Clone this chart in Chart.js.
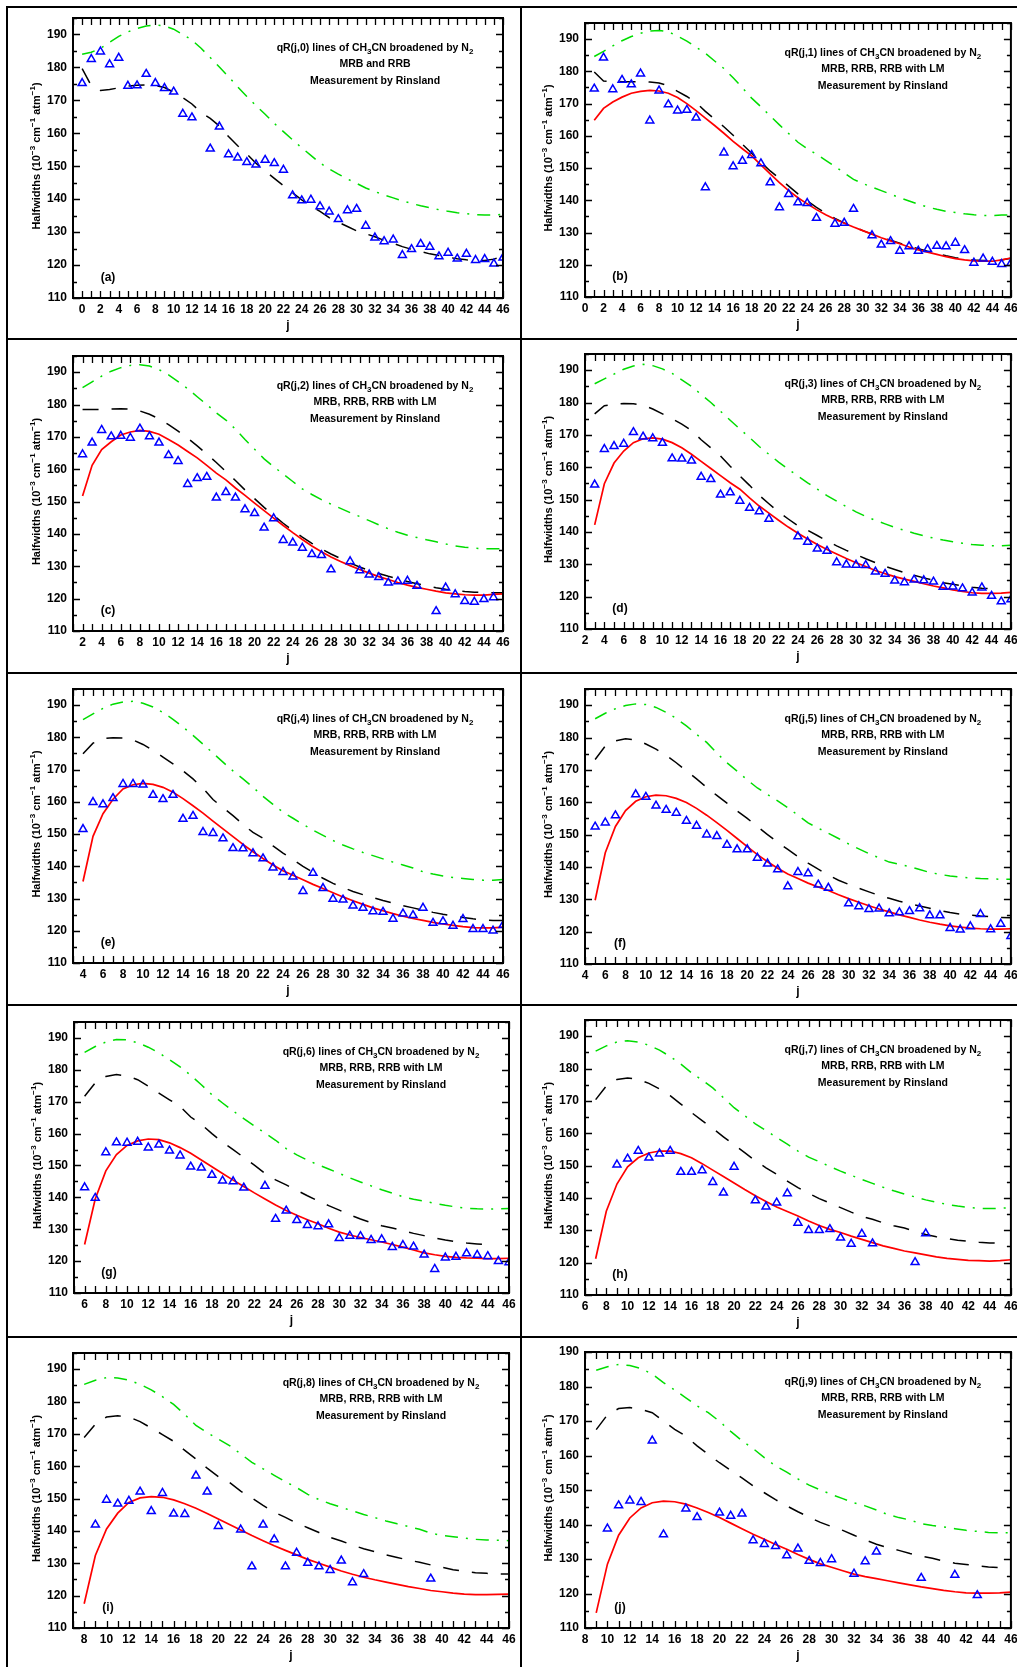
<!DOCTYPE html>
<html><head><meta charset="utf-8">
<script src="https://cdn.jsdelivr.net/npm/chart.js@4.4.1/dist/chart.umd.min.js"></script>
<style>
html,body{margin:0;padding:0;background:#fff;}
body{width:1017px;height:1667px;position:relative;overflow:hidden;}
canvas{position:absolute;}
.ln{position:absolute;background:#000;z-index:5;}
</style></head><body>
<div class="ln" style="left:6px;top:6px;width:2px;height:1661px"></div>
<div class="ln" style="left:6px;top:6px;width:1011px;height:2px"></div>
<div class="ln" style="left:520px;top:6px;width:2px;height:1661px"></div>
<div class="ln" style="left:6px;top:338px;width:1011px;height:2px"></div>
<div class="ln" style="left:6px;top:672px;width:1011px;height:2px"></div>
<div class="ln" style="left:6px;top:1004px;width:1011px;height:2px"></div>
<div class="ln" style="left:6px;top:1336px;width:1011px;height:2px"></div>
<script>
// ---------- tick labels ----------
const yTicks = [110,120,130,140,150,160,170,180,190];
const xTicks0 = [0,2,4,6,8,10,12,14,16,18,20,22,24,26,28,30,32,34,36,38,40,42,44,46];
const xTicks2 = [2,4,6,8,10,12,14,16,18,20,22,24,26,28,30,32,34,36,38,40,42,44,46];
const xTicks4 = [4,6,8,10,12,14,16,18,20,22,24,26,28,30,32,34,36,38,40,42,44,46];
const xTicks6 = [6,8,10,12,14,16,18,20,22,24,26,28,30,32,34,36,38,40,42,44,46];
const xTicks8 = [8,10,12,14,16,18,20,22,24,26,28,30,32,34,36,38,40,42,44,46];

// ---------- (a) qR(j,0) ----------
const measJ_a = [0,1,2,3,4,5,6,7,8,9,10,11,12,14,15,16,17,18,19,20,21,22,23,24,25,26,27,28,29,30,31,32,33,34,35,36,37,38,39,40,41,42,43,44,45,46];
const measW_a = [175.2,182.5,184.8,180.9,182.9,174.4,174.5,178.0,175.2,173.7,172.6,165.9,164.8,155.3,162.0,153.6,152.6,151.2,150.5,151.9,150.9,148.9,141.1,139.6,139.8,137.8,136.2,133.9,136.6,137.0,131.9,128.3,127.2,127.7,123.0,124.8,126.4,125.5,122.6,123.7,121.9,123.4,121.5,121.8,120.4,122.2];
const mrbStart_a = 0;
const mrb_a = [179.6,174.5,173.0,173.3,173.8,174.3,174.6,174.7,174.5,173.9,172.5,170.8,168.9,166.3,164.5,162.2,159.0,156.2,153.7,150.9,148.6,146.3,144.1,141.9,139.8,137.9,136.3,134.4,133.0,131.7,130.4,129.5,128.6,127.5,126.6,125.6,124.8,124.1,123.4,122.9,122.4,121.9,121.6,121.4,121.4,121.8,122.7];
const rrbStart_a = 0;
const rrb_a = [184.0,184.6,185.8,187.6,189.4,190.8,191.8,192.6,192.9,192.6,191.6,190.0,188.3,185.8,183.0,180.1,177.2,174.1,171.2,168.4,165.8,163.0,160.5,158.0,155.6,153.3,151.0,149.2,147.6,146.1,144.8,143.4,142.3,141.3,140.4,139.5,138.7,138.0,137.4,136.8,136.3,135.9,135.6,135.3,135.2,135.2,135.4];

// ---------- (b) qR(j,1) ----------
const measJ_b = [1,2,3,4,5,6,7,8,9,10,11,12,13,15,16,17,18,19,20,21,22,23,24,25,27,28,29,31,32,33,34,35,36,37,38,39,40,41,42,43,44,45,46];
const measW_b = [174.6,184.2,174.4,177.3,175.9,179.3,164.7,174.0,169.7,167.8,168.0,165.6,144.0,154.8,150.5,152.2,154.0,151.4,145.5,137.8,141.9,139.3,139.1,134.5,132.7,133.0,137.3,129.1,126.2,127.3,124.3,125.7,124.3,124.8,125.8,125.7,126.8,124.5,120.6,121.9,120.9,120.2,120.5];
const mrbStart_b = 1;
const mrb_b = [179.8,177.0,176.9,176.8,176.8,176.8,176.7,176.4,175.5,173.8,172.2,170.3,167.6,165.2,162.8,160.2,157.4,154.6,151.8,149.1,146.8,144.4,142.0,139.8,137.8,136.0,134.4,133.0,131.8,130.6,129.5,128.5,127.6,126.7,125.8,125.0,124.2,123.5,122.8,122.2,121.8,121.5,121.3,121.3,121.5,122.0];
const lmStart_b = 1;
const lm_b = [164.8,168.5,170.5,172.0,173.2,173.8,174.1,173.9,173.2,171.9,170.0,167.8,165.5,163.2,160.8,158.3,156.0,153.8,151.0,148.2,145.5,143.0,140.8,138.9,137.1,135.5,134.1,132.9,131.7,130.6,129.5,128.4,127.4,126.5,125.5,124.6,123.9,123.2,122.5,121.9,121.5,121.2,121.1,121.1,121.5,122.1];
const rrbStart_b = 1;
const rrb_b = [184.6,186.2,187.9,189.5,190.8,191.8,192.5,192.7,192.3,190.9,189.4,187.5,185.6,183.2,180.9,178.0,174.9,171.7,169.0,166.2,163.4,160.7,158.0,156.0,154.3,152.4,150.5,148.5,146.5,145.2,144.1,143.0,141.9,140.8,139.8,138.8,137.9,137.2,136.6,136.2,135.8,135.5,135.3,135.3,135.4,135.5];

// ---------- (c) qR(j,2) ----------
const measJ_c = [2,3,4,5,6,7,8,9,10,11,12,13,14,15,16,17,18,19,20,21,22,23,24,25,26,27,28,30,31,32,33,34,35,36,37,39,40,41,42,43,44,45];
const measW_c = [164.6,168.2,172.1,170.1,170.3,169.7,172.5,170.1,168.2,164.3,162.5,155.4,157.2,157.6,151.2,152.9,151.2,147.6,146.4,141.9,144.8,138.1,137.3,135.7,133.7,133.4,129.0,131.5,128.7,127.4,126.6,124.9,125.3,125.5,123.9,116.1,123.4,121.3,119.2,119.0,119.8,120.4];
const mrbStart_c = 2;
const mrb_c = [178.5,178.5,178.5,178.6,178.7,178.6,178.0,177.0,175.6,173.8,171.8,169.6,167.2,164.7,162.1,159.3,156.5,153.6,150.9,148.2,145.7,143.3,141.1,139.0,137.1,135.4,133.8,132.4,131.0,129.8,128.7,127.8,126.9,126.1,125.3,124.6,124.0,123.4,122.9,122.5,122.2,122.0,121.9,121.8,121.8];
const lmStart_c = 2;
const lm_c = [151.7,161.2,166.1,168.5,170.6,171.5,172.0,171.7,170.8,169.2,167.5,165.5,163.5,161.2,158.8,156.7,154.2,151.9,149.5,147.2,144.9,142.6,140.4,138.3,136.3,134.5,132.9,131.5,130.2,129.0,127.9,126.8,125.9,125.0,124.2,123.5,122.9,122.3,121.8,121.5,121.2,121.1,121.1,121.3,121.5];
const rrbStart_c = 2;
const rrb_c = [185.2,187.0,188.8,190.3,191.4,192.1,192.3,191.9,190.8,189.2,187.1,184.9,182.4,180.0,177.4,175.2,172.4,169.2,166.2,163.2,160.8,158.5,156.2,153.9,152.2,150.6,149.2,147.9,146.6,145.4,144.1,142.8,141.6,140.5,139.6,138.9,138.2,137.6,136.9,136.3,135.9,135.6,135.4,135.4,135.4];

// ---------- (d) qR(j,3) ----------
const measJ_d = [3,4,5,6,7,8,9,10,11,12,13,14,15,16,17,18,19,20,21,24,25,26,27,28,29,30,31,32,33,34,35,36,37,38,39,40,41,42,43,44,45,46];
const measW_d = [154.6,165.6,166.5,167.2,170.8,169.4,168.9,167.5,162.7,162.6,162.0,157.0,156.3,151.5,152.2,149.6,147.4,146.3,144.0,138.6,136.9,134.8,134.1,130.6,129.9,129.8,129.7,127.7,127.0,124.9,124.4,125.2,125.0,124.6,123.0,123.1,122.5,121.2,122.8,120.2,118.5,119.1];
const mrbStart_d = 3;
const mrb_d = [176.5,179.0,179.5,179.7,179.6,179.2,178.0,176.5,175.0,173.3,171.4,168.5,166.0,163.5,160.3,157.3,154.4,151.3,148.7,146.2,144.0,141.9,140.5,138.9,137.2,135.7,134.3,133.0,131.7,130.5,129.4,128.4,127.4,126.6,125.8,125.1,124.3,123.8,123.3,122.9,122.6,122.5];
const lmStart_d = 3;
const lm_d = [142.2,154.9,161.3,165.0,167.6,168.8,169.1,168.7,167.6,166.0,164.0,161.8,159.6,157.4,155.2,153.2,150.5,148.0,145.8,143.6,141.5,139.6,137.8,136.1,134.6,133.2,131.8,130.5,129.3,128.1,127.1,126.2,125.4,124.7,124.0,123.3,122.7,122.1,121.6,121.2,121.0,121.0,121.1,121.3];
const rrbStart_d = 3;
const rrb_d = [185.8,187.3,188.8,190.3,191.3,191.8,191.4,190.4,189.0,187.0,185.0,182.5,180.0,177.3,174.5,171.8,169.2,166.4,164.0,161.6,159.4,157.3,155.2,153.2,151.2,149.5,147.8,146.2,144.8,143.6,142.5,141.4,140.5,139.6,138.8,138.1,137.5,137.0,136.5,136.1,135.9,135.7,135.7,135.9];

// ---------- (e) qR(j,4) ----------
const measJ_e = [4,5,6,7,8,9,10,11,12,13,14,15,16,17,18,19,20,21,22,23,24,25,26,27,28,29,30,31,32,33,34,35,36,37,38,39,40,41,42,43,44,45,46];
const measW_e = [151.5,159.9,159.2,161.1,165.5,165.5,165.3,162.1,160.8,162.1,154.7,155.6,150.6,150.3,148.6,145.6,145.5,144.0,142.4,139.6,138.2,136.8,132.3,137.9,133.2,129.9,129.6,127.8,127.1,126.0,125.8,123.7,125.3,124.8,127.1,122.4,122.9,121.5,123.6,120.5,120.5,120.0,121.7];
const mrbStart_e = 4;
const mrb_e = [174.9,178.2,179.6,179.9,179.8,179.2,177.8,176.0,173.9,171.8,169.6,167.1,164.2,160.7,158.2,155.7,153.0,150.5,148.7,146.3,144.1,142.1,140.0,138.1,136.3,134.7,133.4,132.2,131.2,130.3,129.4,128.6,127.8,127.1,126.4,125.7,125.1,124.6,124.1,123.7,123.4,123.2,123.2];
const lmStart_e = 4;
const lm_e = [135.3,149.3,156.3,160.8,164.0,165.3,165.7,165.4,164.5,163.0,161.0,158.8,156.5,154.0,151.6,149.2,146.8,144.5,142.4,140.4,138.6,137.2,135.8,134.4,133.1,131.8,130.5,129.3,128.2,127.1,126.2,125.3,124.5,123.8,123.2,122.6,122.1,121.7,121.3,121.0,120.9,120.9,121.1];
const rrbStart_e = 4;
const rrb_e = [185.5,187.3,189.0,190.3,191.0,191.2,190.6,189.4,187.7,185.6,183.2,180.6,177.9,175.1,172.3,169.6,167.1,164.5,161.7,159.2,156.8,154.9,153.0,151.2,149.6,148.0,146.6,145.4,144.3,143.3,142.3,141.3,140.4,139.5,138.3,137.6,137.0,136.5,136.2,135.9,135.7,135.7,135.9];

// ---------- (f) qR(j,5) ----------
const measJ_f = [5,6,7,9,10,11,12,13,14,15,16,17,18,19,20,21,22,23,24,25,26,27,28,30,31,32,33,34,35,36,37,38,39,40,41,42,43,44,45,46];
const measW_f = [152.4,153.7,155.9,162.4,161.6,158.9,157.6,156.7,154.2,152.7,150.0,149.5,146.8,145.4,145.4,142.8,141.0,139.2,134.0,138.4,138.0,134.5,133.5,128.7,127.8,126.9,127.1,125.6,125.9,126.3,127.2,125.0,125.0,121.1,120.6,121.6,125.4,120.7,122.4,118.6];
const mrbStart_f = 5;
const mrb_f = [173.2,177.4,179.0,179.6,179.3,178.0,176.4,174.5,172.2,169.7,167.2,164.6,162.1,159.7,157.3,155.0,152.5,150.0,147.6,145.4,143.2,141.2,139.3,137.5,135.9,134.6,133.4,132.3,131.2,130.3,129.4,128.6,127.9,127.2,126.5,125.9,125.4,125.1,124.8,124.6,124.4,124.3];
const lmStart_f = 5;
const lm_f = [129.7,144.4,152.5,157.4,160.3,161.7,162.2,162.0,161.2,159.9,158.1,156.0,153.7,151.3,148.8,146.3,143.8,141.6,139.6,137.8,136.4,135.0,133.8,132.7,131.4,130.2,129.1,128.0,127.0,126.1,125.2,124.4,123.6,122.9,122.3,121.8,121.4,121.1,120.9,120.8,120.8,120.9];
const rrbStart_f = 5;
const rrb_f = [185.8,187.5,188.9,189.9,190.4,190.2,189.3,187.8,185.9,183.6,181.0,178.5,175.2,172.2,169.6,166.9,164.4,162.4,160.4,158.3,156.0,153.6,152.0,150.4,148.8,147.1,145.6,144.1,142.8,141.5,140.8,140.1,139.2,138.3,137.7,137.2,136.9,136.6,136.4,136.3,136.2,136.2];

// ---------- (g) qR(j,6) ----------
const measJ_g = [6,7,8,9,10,11,12,13,14,15,16,17,18,19,20,21,23,24,25,26,27,28,29,30,31,32,33,34,35,36,37,38,39,40,41,42,43,44,45,46];
const measW_g = [143.1,139.8,154.1,157.2,157.1,157.4,155.6,156.5,154.6,153.1,149.6,149.3,147.0,145.2,145.0,143.0,143.6,133.2,135.8,132.8,131.3,130.9,131.5,127.2,127.9,127.8,126.6,126.8,124.4,125.0,124.5,122.0,117.5,121.1,121.3,122.4,121.9,121.5,120.0,119.6];
const mrbStart_g = 6;
const mrb_g = [171.7,175.9,177.9,178.5,178.1,176.9,174.9,172.7,170.6,168.5,165.2,162.9,160.0,157.3,155.0,152.5,150.1,147.5,145.5,143.9,142.2,140.5,138.9,137.4,136.0,134.5,133.2,132.1,131.1,130.4,129.6,128.7,128.0,127.3,126.6,126.1,125.7,125.4,125.1];
const lmStart_g = 6;
const lm_g = [125.2,139.5,148.3,153.4,156.3,157.7,158.3,158.1,157.1,155.6,153.8,151.7,149.6,147.5,145.4,143.4,141.4,139.5,137.6,135.9,134.4,133.0,131.7,130.3,129.1,128.2,127.4,126.7,126.0,125.2,124.4,123.5,122.6,122.0,121.5,121.2,121.0,120.9,120.8,120.8,120.9];
const rrbStart_g = 6;
const rrb_g = [185.5,187.3,188.7,189.5,189.4,188.5,187.1,185.3,183.2,180.9,178.3,175.3,172.2,169.6,167.1,164.7,162.4,160.2,157.9,155.3,153.3,151.7,150.2,148.9,147.5,146.1,144.8,143.6,142.4,141.3,140.2,139.4,138.8,138.1,137.5,137.0,136.6,136.4,136.3,136.4,136.5];

// ---------- (h) qR(j,7) ----------
const measJ_h = [9,10,11,12,13,14,15,16,17,18,19,20,22,23,24,25,26,27,28,29,30,31,32,33,37,38];
const measW_h = [150.3,152.1,154.5,152.4,153.7,154.5,148.0,148.0,148.5,144.9,141.6,149.6,139.2,137.3,138.5,141.4,132.3,130.0,130.0,130.3,127.7,125.8,128.9,125.9,120.1,129.0];
const mrbStart_h = 7;
const mrb_h = [170.4,174.6,176.6,177.1,176.7,175.4,173.7,171.6,169.0,166.4,163.9,161.5,158.9,156.4,154.0,151.5,149.3,147.3,145.2,143.2,141.4,139.8,138.4,137.0,135.6,134.3,133.4,132.3,131.4,130.7,129.6,128.7,128.0,127.5,126.9,126.6,126.3,126.1,126.0];
const lmStart_h = 7;
const lm_h = [121.2,135.9,144.3,149.6,152.4,153.9,154.5,154.5,153.7,152.4,150.6,148.6,146.6,144.6,142.6,140.7,138.9,137.2,135.8,134.4,132.9,131.5,130.3,129.3,128.2,127.2,126.2,125.2,124.4,123.6,123.0,122.4,121.8,121.3,121.0,120.7,120.6,120.5,120.6,120.9];
const rrbStart_h = 7;
const rrb_h = [185.4,187.0,188.2,188.6,188.2,187.2,185.7,183.7,181.4,178.7,176.4,174.0,171.0,167.9,165.4,162.9,160.8,158.7,156.6,154.5,152.6,151.2,149.7,148.3,147.0,145.7,144.5,143.3,142.2,141.2,140.3,139.4,138.7,138.0,137.5,137.1,136.8,136.7,136.8,137.0];

// ---------- (i) qR(j,8) ----------
const measJ_i = [9,10,11,12,13,14,15,16,17,18,19,20,22,23,24,25,26,27,28,29,30,31,32,33,39];
const measW_i = [141.9,149.6,148.4,149.3,152.1,146.1,151.7,145.3,145.2,157.1,152.1,141.5,140.4,129.0,141.9,137.4,129.0,133.2,130.1,129.0,127.9,130.8,124.1,126.6,125.2];
const mrbStart_i = 8;
const mrb_i = [168.9,173.0,175.2,175.6,175.2,173.8,171.8,169.8,167.7,164.9,162.2,159.4,156.8,155.0,152.3,150.2,147.9,145.8,144.2,142.4,141.0,139.5,138.0,136.9,135.6,134.5,133.6,132.6,131.8,131.0,130.3,129.5,128.8,128.0,127.5,127.1,126.9,126.7,126.7];
const lmStart_i = 8;
const lm_i = [117.5,132.4,140.6,145.5,148.8,150.2,150.6,150.4,149.6,148.4,147.0,145.4,143.7,142.0,140.3,138.6,137.0,135.4,134.0,132.6,131.2,130.0,128.8,127.6,126.6,125.7,124.9,124.2,123.5,122.8,122.2,121.6,121.2,120.8,120.5,120.3,120.3,120.4,120.5];
const rrbStart_i = 8;
const rrb_i = [185.3,186.6,187.4,187.3,186.6,185.3,183.6,181.5,179.1,176.0,172.6,170.4,168.4,166.4,163.8,161.2,159.2,157.2,155.2,153.4,151.3,149.7,148.4,147.3,146.2,145.1,144.1,143.1,142.2,141.4,140.5,139.3,138.6,138.2,137.8,137.4,137.2,137.1,137.0];

// ---------- (j) qR(j,9) ----------
const measJ_j = [10,11,12,13,14,15,17,18,20,21,22,23,24,25,26,27,28,29,30,32,33,34,38,41,43];
const measW_j = [138.8,145.5,146.9,146.5,164.3,137.1,144.6,142.1,143.4,142.5,143.1,135.4,134.3,133.7,131.0,133.0,129.4,128.8,129.9,125.7,129.3,132.1,124.5,125.4,119.5];
const mrbStart_j = 9;
const mrb_j = [167.5,171.8,173.6,173.9,173.4,172.4,170.0,167.6,165.6,162.8,160.3,157.9,155.7,153.5,151.2,149.2,147.2,145.4,143.7,142.1,140.6,139.4,138.3,136.9,135.5,134.3,133.3,132.5,131.6,130.8,130.2,129.4,128.8,128.4,128.0,127.7,127.5];
const lmStart_j = 9;
const lm_j = [114.4,128.5,136.9,141.9,144.8,146.3,146.8,146.6,145.9,144.8,143.5,142.0,140.4,138.8,137.2,135.7,134.2,132.8,131.3,129.9,128.6,127.6,126.6,125.6,124.9,124.3,123.7,123.1,122.5,121.9,121.4,120.9,120.5,120.2,120.1,120.1,120.2,120.4];
const rrbStart_j = 9;
const rrb_j = [184.7,185.7,186.4,186.1,185.2,183.6,181.1,179.0,176.7,174.4,172.4,169.9,167.0,164.3,162.0,159.4,157.0,155.2,153.2,151.4,150.0,148.7,147.5,146.3,145.4,144.2,142.9,142.0,141.3,140.2,139.7,139.3,138.8,138.3,138.0,137.7,137.6,137.6];

// ---------- text ----------
const letters = ['(a)','(b)','(c)','(d)','(e)','(f)','(g)','(h)','(i)','(j)'];
const kValues = [0,1,2,3,4,5,6,7,8,9];
const modelLines = ['MRB and RRB','MRB, RRB, RRB with LM','MRB, RRB, RRB with LM','MRB, RRB, RRB with LM','MRB, RRB, RRB with LM','MRB, RRB, RRB with LM','MRB, RRB, RRB with LM','MRB, RRB, RRB with LM','MRB, RRB, RRB with LM','MRB, RRB, RRB with LM'];
const measLine = 'Measurement by Rinsland';
const yTitleParts = [['Halfwidths (10',0],['\u22123',-1],[' cm',0],['\u22121',-1],[' atm',0],['\u22121',-1],[')',0]];
const xTitle = 'j';

// ---------- layout (page px) ----------
const FONT = 'Liberation Sans, Arial, Helvetica, sans-serif';
const panels = [
  {cell:[8,8,520,338],     plot:[73,503,18,298],     xMin:-1, xT:xTicks0, yMax:195, meas:[measJ_a,measW_a], mrb:[mrbStart_a,mrb_a], rrb:[rrbStart_a,rrb_a], lm:null},
  {cell:[522,8,1017,338],  plot:[585,1013,23,297],   xMin:0,  xT:xTicks0, yMax:195, meas:[measJ_b,measW_b], mrb:[mrbStart_b,mrb_b], rrb:[rrbStart_b,rrb_b], lm:[lmStart_b,lm_b]},
  {cell:[8,340,520,672],   plot:[73,503,356,631],    xMin:1,  xT:xTicks2, yMax:195, meas:[measJ_c,measW_c], mrb:[mrbStart_c,mrb_c], rrb:[rrbStart_c,rrb_c], lm:[lmStart_c,lm_c]},
  {cell:[522,340,1017,672],plot:[585,1011,354,629],  xMin:2,  xT:xTicks2, yMax:195, meas:[measJ_d,measW_d], mrb:[mrbStart_d,mrb_d], rrb:[rrbStart_d,rrb_d], lm:[lmStart_d,lm_d]},
  {cell:[8,674,520,1004],  plot:[73,503,689,963],    xMin:3,  xT:xTicks4, yMax:195, meas:[measJ_e,measW_e], mrb:[mrbStart_e,mrb_e], rrb:[rrbStart_e,rrb_e], lm:[lmStart_e,lm_e]},
  {cell:[522,674,1017,1004],plot:[585,1013,689,964], xMin:4,  xT:xTicks4, yMax:195, meas:[measJ_f,measW_f], mrb:[mrbStart_f,mrb_f], rrb:[rrbStart_f,rrb_f], lm:[lmStart_f,lm_f]},
  {cell:[8,1006,520,1336], plot:[74,509,1022,1293],  xMin:5,  xT:xTicks6, yMax:195, meas:[measJ_g,measW_g], mrb:[mrbStart_g,mrb_g], rrb:[rrbStart_g,rrb_g], lm:[lmStart_g,lm_g]},
  {cell:[522,1006,1017,1336],plot:[585,1015,1020,1295],xMin:6,xT:xTicks6, yMax:195, meas:[measJ_h,measW_h], mrb:[mrbStart_h,mrb_h], rrb:[rrbStart_h,rrb_h], lm:[lmStart_h,lm_h]},
  {cell:[8,1338,520,1667], plot:[73,509,1353,1628],  xMin:7,  xT:xTicks8, yMax:195, meas:[measJ_i,measW_i], mrb:[mrbStart_i,mrb_i], rrb:[rrbStart_i,rrb_i], lm:[lmStart_i,lm_i]},
  {cell:[522,1338,1017,1667],plot:[585,1015,1352,1628],xMin:8,xT:xTicks8, yMax:190, meas:[measJ_j,measW_j], mrb:[mrbStart_j,mrb_j], rrb:[rrbStart_j,rrb_j], lm:[lmStart_j,lm_j]}
];

function seq(start, vals){ return vals.map((v,i)=>({x:start+i, y:v})); }
function pairs(js, vs){ return js.map((j,i)=>({x:j, y:vs[i]})); }

// parts: [text, mode]  mode 0 normal, 1 subscript, -1 superscript
function drawRich(ctx, parts, cx, cy, size){
  const small = Math.round(size*0.74);
  let w = 0;
  parts.forEach(p=>{ ctx.font = 'bold '+(p[1]?small:size)+'px '+FONT; w += ctx.measureText(p[0]).width; });
  let x = cx - w/2;
  ctx.textAlign = 'left'; ctx.textBaseline = 'middle';
  parts.forEach(p=>{
    ctx.font = 'bold '+(p[1]?small:size)+'px '+FONT;
    const dy = p[1] === 1 ? size*0.38 : (p[1] === -1 ? -size*0.38 : 0);
    ctx.fillText(p[0], x, cy + dy);
    x += ctx.measureText(p[0]).width;
  });
}

const framePlugin = {
  id:'frame',
  afterDraw(chart){
    const o = chart.options.plugins.frame;
    const {ctx, chartArea:a} = chart;
    const xs = chart.scales.x, ys = chart.scales.y;
    ctx.save();
    ctx.strokeStyle = '#000';
    ctx.lineWidth = 1.3;
    ctx.beginPath();
    for (let j = Math.ceil(xs.min); j <= xs.max; j++) {
      const px = Math.round(xs.getPixelForValue(j)) + 0.5;
      ctx.moveTo(px, a.bottom); ctx.lineTo(px, a.bottom - 7);
      ctx.moveTo(px, a.top); ctx.lineTo(px, a.top + 7);
    }
    for (let v = 110; v <= ys.max; v += 5) {
      const py = Math.round(ys.getPixelForValue(v)) + 0.5;
      const len = (v % 10 === 0) ? 7 : 4;
      ctx.moveTo(a.left, py); ctx.lineTo(a.left + len, py);
      ctx.moveTo(a.right, py); ctx.lineTo(a.right - len, py);
    }
    ctx.stroke();
    ctx.lineWidth = 2;
    ctx.strokeRect(a.left, a.top, a.right - a.left, a.bottom - a.top);
    ctx.fillStyle = '#000';
    const cx = a.right - 128;
    drawRich(ctx, [['qR(j,'+o.k+') lines of CH',0],['3',1],['CN broadened by N',0],['2',1]], cx, a.top + 30, 10.5);
    drawRich(ctx, [[o.line2,0]], cx, a.top + 46.5, 10.5);
    drawRich(ctx, [[measLine,0]], cx, a.top + 63, 10.5);
    ctx.font = 'bold 12px '+FONT; ctx.textAlign = 'center'; ctx.textBaseline = 'middle';
    ctx.fillText(o.letter, a.left + 35, a.bottom - 20);
    // y axis title with true superscripts
    ctx.save();
    ctx.translate(a.left - 36, (a.top + a.bottom)/2 - 2);
    ctx.rotate(-Math.PI/2);
    drawRich(ctx, yTitleParts, 0, 0, 11);
    ctx.restore();
    ctx.restore();
  }
};

panels.forEach((p, idx) => {
  const [x0,y0,x1,y1] = p.cell;
  const [L,R,T,B] = p.plot;
  const cv = document.createElement('canvas');
  cv.width = x1 - x0; cv.height = y1 - y0;
  cv.style.left = x0 + 'px'; cv.style.top = y0 + 'px';
  cv.style.width = (x1-x0)+'px'; cv.style.height = (y1-y0)+'px';
  document.body.appendChild(cv);
  const lh = 12*1.2;
  const datasets = [
    {label:'Measurement', data:pairs(p.meas[0], p.meas[1]), showLine:false, pointStyle:'triangle', pointRadius:4.6, pointBorderWidth:1.5, borderColor:'#0000ff', pointBorderColor:'#0000ff', backgroundColor:'rgba(0,0,0,0)', pointBackgroundColor:'rgba(0,0,0,0)'}
  ];
  if (p.lm) datasets.push({label:'RRB with LM', data:seq(p.lm[0], p.lm[1]), showLine:true, pointRadius:0, borderColor:'#ff0000', borderWidth:1.7, tension:0});
  datasets.push({label:'MRB', data:seq(p.mrb[0], p.mrb[1]), showLine:true, pointRadius:0, borderColor:'#000000', borderWidth:1.5, borderDash:[16,13], tension:0});
  datasets.push({label:'RRB', data:seq(p.rrb[0], p.rrb[1]), showLine:true, pointRadius:0, borderColor:'#00dd00', borderWidth:1.5, borderDash:[13,8,2,8], tension:0});
  new Chart(cv, {
    type:'scatter',
    data:{datasets},
    options:{
      responsive:false, animation:false, devicePixelRatio:1, events:[],
      layout:{padding:{left:0, top:T-y0, right:x1-R, bottom:0}},
      plugins:{legend:{display:false}, tooltip:{enabled:false},
        frame:{k:kValues[idx], line2:modelLines[idx], letter:letters[idx]}},
      scales:{
        x:{type:'linear', min:p.xMin, max:46,
          grid:{display:false, drawTicks:false}, border:{display:false},
          ticks:{autoSkip:false, maxRotation:0, minRotation:0, padding:4, color:'#000', font:{family:FONT, size:12, weight:'bold'}},
          afterBuildTicks:s=>{ s.ticks = p.xT.map(v=>({value:v})); },
          afterFit:s=>{ s.height = y1 - B; s.paddingLeft = 0; s.paddingRight = 0; },
          title:{display:true, text:xTitle, color:'#000', font:{family:FONT, size:12, weight:'bold'}, padding:{top:0, bottom:(y1-(B+28))-lh/2}}
        },
        y:{type:'linear', min:110, max:p.yMax,
          grid:{display:false, drawTicks:false}, border:{display:false},
          ticks:{padding:6, color:'#000', font:{family:FONT, size:12, weight:'bold'}},
          afterBuildTicks:s=>{ s.ticks = yTicks.filter(v=>v<=p.yMax).map(v=>({value:v})); },
          afterFit:s=>{ s.width = L - x0; s.paddingTop = 0; s.paddingBottom = 0; },
          title:{display:false}
        }
      }
    },
    plugins:[framePlugin]
  });
});
</script>
</body></html>
